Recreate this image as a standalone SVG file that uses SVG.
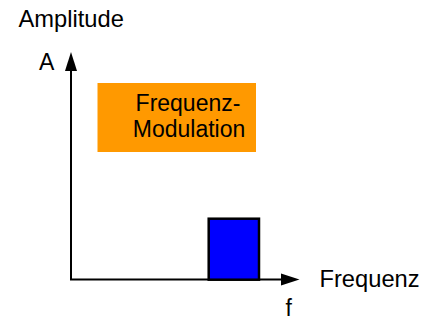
<svg xmlns="http://www.w3.org/2000/svg" width="423" height="321" viewBox="0 0 423 321">
<style>
text{font-family:"Liberation Sans",Arial,sans-serif;font-size:23px;fill:#000}
.big{font-size:23.7px}
.axis{stroke:#000;stroke-width:2;fill:none}
</style>
<rect width="423" height="321" fill="#fff"/>
<g id="connectors">
<line class="axis" x1="71" y1="280" x2="71" y2="68"/>
<polygon points="71,52 65,71 77,71" fill="#000"/>
<line class="axis" x1="70" y1="279.5" x2="284" y2="279.5"/>
<polygon points="299.5,279.5 281,273.5 281,285.5" fill="#000"/>
</g>
<g id="label-amplitude"><text class="big" x="18.5" y="26.5">Amplitude</text></g>
<g id="label-A"><text x="39" y="70">A</text></g>
<g id="label-frequenz"><text class="big" x="319.5" y="287">Frequenz</text></g>
<g id="label-f"><text x="285.5" y="316">f</text></g>
<g id="modulation-box">
<rect x="97.5" y="83" width="158.5" height="69" fill="#ff9900"/>
<text x="188" y="110.5" text-anchor="middle">Frequenz-</text>
<text x="189" y="136.5" text-anchor="middle">Modulation</text>
</g>
<g id="signal">
<rect x="208.7" y="218.7" width="50.3" height="61" fill="#0000ff" stroke="#000" stroke-width="2.5"/>
</g>
</svg>
